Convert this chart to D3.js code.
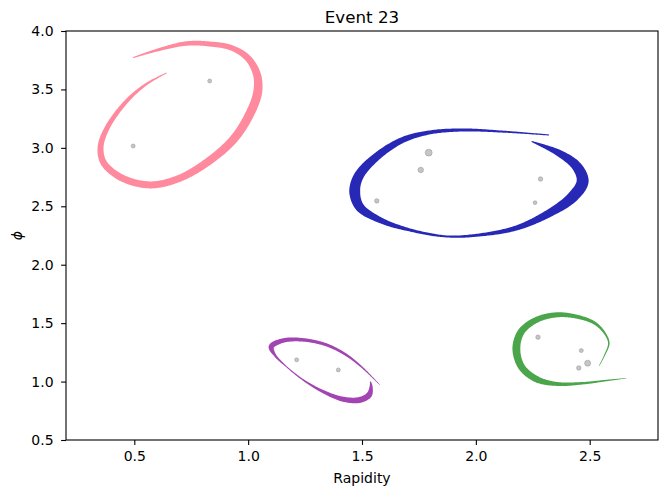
<!DOCTYPE html>
<html>
<head>
<meta charset="utf-8">
<script src="https://cdn.jsdelivr.net/npm/d3@7"></script>
<style>
  html, body { margin: 0; padding: 0; background: #fff; }
  svg { display: block; font-family: "DejaVu Sans", sans-serif; }
</style>
</head>
<body>
<svg id="chart" width="659" height="492"></svg>
<script>
// Event 23: jet outlines in the rapidity–phi plane with constituent particles.

const xTicks = [0.5, 1.0, 1.5, 2.0, 2.5];
const yTicks = [0.5, 1.0, 1.5, 2.0, 2.5, 3.0, 3.5, 4.0];

// Jet outlines: centreline (rapidity, phi) and local band thickness (phi units)
const pinkRap = [0.494, 0.612, 0.729, 0.831, 0.928, 0.998, 1.038, 1.042, 1.007, 0.937, 0.822, 0.691, 0.568, 0.445, 0.366, 0.352, 0.383, 0.467, 0.554, 0.642];
const pinkPhi = [3.772, 3.843, 3.893, 3.889, 3.855, 3.769, 3.632, 3.478, 3.290, 3.076, 2.879, 2.734, 2.683, 2.743, 2.871, 3.008, 3.179, 3.401, 3.547, 3.641];
const pinkThk = [0.009, 0.026, 0.038, 0.043, 0.047, 0.056, 0.068, 0.077, 0.077, 0.073, 0.068, 0.060, 0.060, 0.060, 0.056, 0.051, 0.043, 0.034, 0.021, 0.007];

const blueRap = [2.321, 2.118, 1.942, 1.797, 1.679, 1.565, 1.486, 1.468, 1.490, 1.578, 1.709, 1.872, 2.017, 2.179, 2.324, 2.425, 2.469, 2.443, 2.368, 2.245];
const bluePhi = [3.110, 3.139, 3.153, 3.132, 3.068, 2.926, 2.760, 2.627, 2.494, 2.383, 2.298, 2.242, 2.255, 2.315, 2.443, 2.580, 2.713, 2.841, 2.952, 3.055];
const blueThk = [0.009, 0.017, 0.026, 0.034, 0.051, 0.068, 0.085, 0.094, 0.077, 0.051, 0.026, 0.017, 0.026, 0.043, 0.068, 0.094, 0.103, 0.085, 0.060, 0.009];

const purpleRap = [1.578, 1.504, 1.431, 1.344, 1.241, 1.153, 1.102, 1.117, 1.168, 1.241, 1.329, 1.417, 1.490, 1.531, 1.540, 1.537];
const purplePhi = [0.972, 1.115, 1.228, 1.314, 1.357, 1.351, 1.299, 1.228, 1.128, 1.015, 0.914, 0.849, 0.843, 0.886, 0.957, 1.000];
const purpleThk = [0.004, 0.013, 0.021, 0.026, 0.030, 0.038, 0.047, 0.021, 0.009, 0.013, 0.026, 0.043, 0.051, 0.051, 0.026, 0.009];

const greenRap = [2.661, 2.573, 2.471, 2.354, 2.266, 2.200, 2.178, 2.200, 2.266, 2.354, 2.442, 2.522, 2.566, 2.584, 2.566, 2.541];
const greenPhi = [1.029, 1.009, 0.986, 0.980, 1.021, 1.128, 1.286, 1.428, 1.528, 1.571, 1.556, 1.500, 1.414, 1.329, 1.228, 1.134];
const greenThk = [0.004, 0.013, 0.021, 0.034, 0.056, 0.060, 0.068, 0.060, 0.051, 0.043, 0.034, 0.026, 0.017, 0.013, 0.009, 0.004];

const jetColors = ["#ff8a9e", "#2828b6", "#a244b2", "#4ba54b"];

// Constituent particles
const partRap = [0.495, 0.831, 1.793, 1.758, 1.565, 2.284, 2.260, 1.213, 1.396, 2.273, 2.463, 2.491, 2.452];
const partPhi = [3.016, 3.572, 2.959, 2.811, 2.546, 2.734, 2.531, 1.186, 1.100, 1.380, 1.265, 1.157, 1.117];
const partPt  = [4.0, 4.0, 12.0, 7.5, 5.0, 5.0, 3.5, 4.0, 4.0, 5.0, 4.0, 9.0, 5.0];

const svg = d3.select("#chart");
const margin = { left: 66, right: 1, top: 31, bottom: 52 };
const W = 659, H = 492;

const x = d3.scaleLinear().domain([0.2, 2.8]).range([margin.left, W - margin.right]);
const y = d3.scaleLinear().domain([0.5, 4.0]).range([H - margin.bottom, margin.top]);
const r = d3.scaleSqrt().domain([0, 16]).range([0, 4]);

// Build a filled band of varying thickness around a smooth centreline
function bandPath(raps, phis, thk) {
  const pts = raps.map((v, i) => [x(v), y(phis[i])]);
  const tmp = svg.append("path")
    .attr("d", d3.line().curve(d3.curveCatmullRom.alpha(0.5))(pts))
    .attr("fill", "none");
  const node = tmp.node();
  const L = node.getTotalLength();
  // chord-length parameter of each control point
  const cum = [0];
  for (let i = 1; i < pts.length; i++) {
    cum.push(cum[i - 1] + Math.hypot(pts[i][0] - pts[i - 1][0], pts[i][1] - pts[i - 1][1]));
  }
  const total = cum[cum.length - 1];
  const wScale = d3.scaleLinear()
    .domain(cum.map(c => c / total))
    .range(thk.map(t => y(0.5) - y(0.5 + t)));
  const N = 400, left = [], right = [];
  for (let k = 0; k <= N; k++) {
    const s = L * k / N;
    const p = node.getPointAtLength(s);
    const a = node.getPointAtLength(Math.max(0, s - 0.5));
    const b = node.getPointAtLength(Math.min(L, s + 0.5));
    let dx = b.x - a.x, dy = b.y - a.y;
    const len = Math.hypot(dx, dy) || 1;
    dx /= len; dy /= len;
    const hw = wScale(s / L) / 2;
    left.push([p.x - dy * hw, p.y + dx * hw]);
    right.push([p.x + dy * hw, p.y - dx * hw]);
  }
  tmp.remove();
  return d3.line()(left.concat(right.reverse())) + "Z";
}

const jets = [
  [pinkRap, pinkPhi, pinkThk],
  [blueRap, bluePhi, blueThk],
  [purpleRap, purplePhi, purpleThk],
  [greenRap, greenPhi, greenThk]
];

const plot = svg.append("g");
jets.forEach((j, i) => {
  plot.append("path")
    .attr("d", bandPath(j[0], j[1], j[2]))
    .attr("fill", jetColors[i])
    .attr("stroke", "none");
});

// Particles
plot.selectAll("circle.part")
  .data(partRap.map((v, i) => ({ rap: v, phi: partPhi[i], pt: partPt[i] })))
  .join("circle")
  .attr("class", "part")
  .attr("cx", d => x(d.rap))
  .attr("cy", d => y(d.phi))
  .attr("r", d => r(d.pt))
  .attr("fill", "#808080")
  .attr("fill-opacity", 0.45)
  .attr("stroke", "#808080")
  .attr("stroke-opacity", 0.5)
  .attr("stroke-width", 0.8);

// Axes
const xAxis = d3.axisBottom(x).tickValues(xTicks).tickFormat(d3.format(".1f")).tickSize(4.9).tickPadding(6.5);
const yAxis = d3.axisLeft(y).tickValues(yTicks).tickFormat(d3.format(".1f")).tickSize(4.9).tickPadding(7.5);

const gx = svg.append("g").attr("transform", `translate(0,${y(0.5)})`).call(xAxis);
const gy = svg.append("g").attr("transform", `translate(${x(0.2)},0)`).call(yAxis);
[gx, gy].forEach(g => {
  g.select(".domain").remove();
  g.selectAll(".tick line").attr("stroke", "#000").attr("stroke-width", 1.1);
  g.selectAll(".tick text").attr("fill", "#000").style("font-size", "14px").style("font-family", "DejaVu Sans");
});

// Frame
svg.append("rect")
  .attr("x", x(0.2)).attr("y", y(4.0))
  .attr("width", x(2.8) - x(0.2)).attr("height", y(0.5) - y(4.0))
  .attr("fill", "none").attr("stroke", "#000").attr("stroke-width", 1.1);

// Titles
svg.append("text")
  .attr("x", (x(0.2) + x(2.8)) / 2).attr("y", y(4.0) - 8.5)
  .attr("text-anchor", "middle")
  .style("font-size", "16.7px")
  .text("Event 23");

svg.append("text")
  .attr("x", (x(0.2) + x(2.8)) / 2).attr("y", 483)
  .attr("text-anchor", "middle")
  .style("font-size", "14px")
  .text("Rapidity");

svg.append("text")
  .attr("transform", `translate(22,${(y(0.5) + y(4.0)) / 2}) rotate(-90)`)
  .attr("text-anchor", "middle")
  .style("font-size", "14px")
  .style("font-style", "italic")
  .text("ϕ");
</script>
</body>
</html>
